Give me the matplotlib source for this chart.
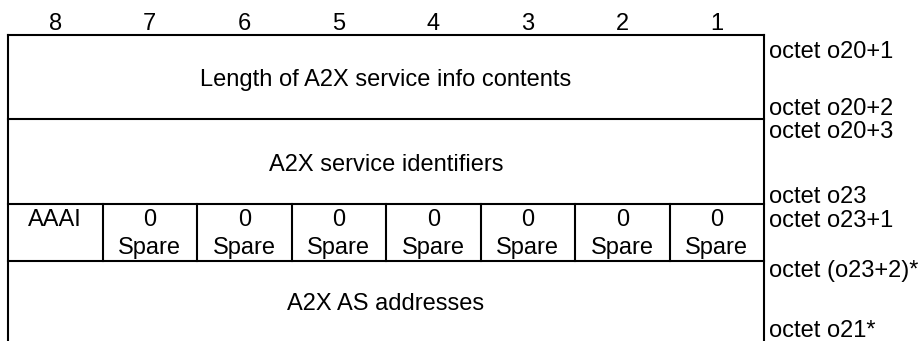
"""Octet layout of the A2X service info field (bit table with octet labels)."""
import matplotlib.pyplot as plt

plt.rcParams["font.family"] = ["Liberation Sans", "DejaVu Sans"]

bits = ["8", "7", "6", "5", "4", "3", "2", "1"]
row_titles = ["Length of A2X service info contents", "A2X service identifiers",
              None, "A2X AS addresses"]
flag_top = ["AAAI", "0", "0", "0", "0", "0", "0", "0"]
flag_bottom = ["", "Spare", "Spare", "Spare", "Spare", "Spare", "Spare", "Spare"]
octet_labels = ["octet o20+1", "octet o20+2", "octet o20+3", "octet o23",
                "octet o23+1", "octet (o23+2)*", "octet o21*"]

# layout in pixels (y down), text placed on baselines
W, H = 919, 341
X0, X1 = 8, 764
row_edges = [35, 119, 204, 261, H]
title_base = [86, 171, None, 310]
flag_base = (226, 254)
octet_base = [58, 115, 138, 203, 227, 277, 337]
FS = 17
LW = 1.5

fig = plt.figure(figsize=(W / 100, H / 100), dpi=100)
ax = fig.add_axes([0, 0, 1, 1])
ax.set_xlim(0, W); ax.set_ylim(H, 0); ax.axis("off")

colw = (X1 - X0) / len(bits)
for i, b in enumerate(bits):
    ax.text(X0 + colw * (i + 0.5), 30, b, ha="center", va="baseline", fontsize=FS)

# outer verticals (open at the bottom) and row borders
ax.plot([X0, X0], [row_edges[0], H], color="black", lw=LW)
ax.plot([X1, X1], [row_edges[0], H], color="black", lw=LW)
for y in row_edges[:-1]:
    ax.plot([X0, X1], [y, y], color="black", lw=LW)

for r, title in enumerate(row_titles):
    top, bot = row_edges[r], row_edges[r + 1]
    if title is not None:
        ax.text((X0 + X1) / 2, title_base[r], title, ha="center",
                va="baseline", fontsize=FS)
        continue
    for i in range(len(bits)):
        cx = X0 + colw * (i + 0.5)
        if i > 0:
            ax.plot([X0 + colw * i] * 2, [top, bot], color="black", lw=LW)
        ax.text(cx, flag_base[0], flag_top[i], ha="center", va="baseline", fontsize=FS)
        ax.text(cx, flag_base[1], flag_bottom[i], ha="center", va="baseline", fontsize=FS)

for lab, y in zip(octet_labels, octet_base):
    ax.text(X1 + 5, y, lab, ha="left", va="baseline", fontsize=FS)

plt.savefig("out.png", dpi=100, facecolor="white")
plt.close()
